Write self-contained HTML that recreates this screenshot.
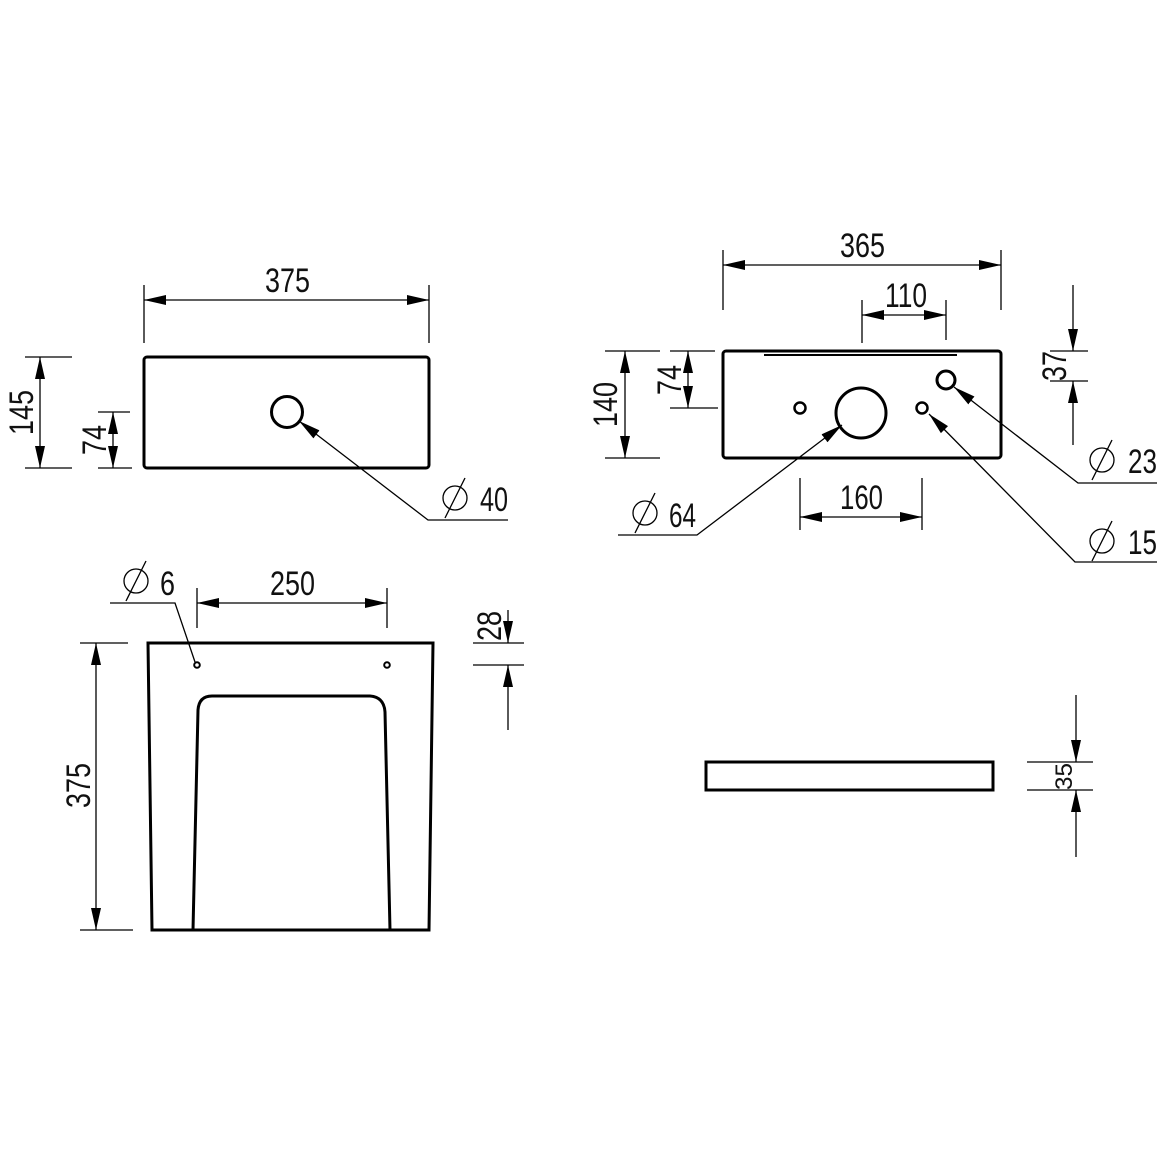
<!DOCTYPE html>
<html><head><meta charset="utf-8"><style>
html,body{margin:0;padding:0;background:#fff}
svg{display:block}
text{font-family:"Liberation Sans",sans-serif;fill:#111}
</style></head><body>
<svg width="1161" height="1161" viewBox="0 0 1161 1161" xmlns="http://www.w3.org/2000/svg">
<defs>
<marker id="a" markerUnits="userSpaceOnUse" markerWidth="24" markerHeight="12" refX="22" refY="5" orient="auto-start-reverse" viewBox="0 0 24 10">
<path d="M0,0 L22,5 L0,10 Z" fill="#000"/></marker>
</defs>
<g stroke="#000" fill="none" stroke-width="1.3">
<!-- Top-left view -->
<line x1="144" y1="285" x2="144" y2="343"/><line x1="429" y1="285" x2="429" y2="343"/>
<line x1="144" y1="300" x2="429" y2="300" marker-start="url(#a)" marker-end="url(#a)"/>
<rect x="144" y="357" width="285" height="111" rx="3" stroke-width="3"/>
<line x1="25" y1="357" x2="72" y2="357"/><line x1="25" y1="468" x2="72" y2="468"/>
<line x1="40" y1="357" x2="40" y2="468" marker-start="url(#a)" marker-end="url(#a)"/>
<line x1="98" y1="412" x2="130" y2="412"/><line x1="98" y1="468" x2="132" y2="468"/>
<line x1="113" y1="412" x2="113" y2="468" marker-start="url(#a)" marker-end="url(#a)"/>
<circle cx="287" cy="412" r="15.5" stroke-width="3"/>
<polyline points="299,421 428,520 508,520" marker-start="url(#a)"/>
<circle cx="455" cy="498" r="12"/><line x1="445" y1="518" x2="465" y2="478"/>

<!-- Top-right view -->
<line x1="723" y1="250" x2="723" y2="310"/><line x1="1001" y1="250" x2="1001" y2="310"/>
<line x1="723" y1="265" x2="1001" y2="265" marker-start="url(#a)" marker-end="url(#a)"/>
<line x1="862" y1="300" x2="862" y2="343"/><line x1="946" y1="300" x2="946" y2="340"/>
<line x1="862" y1="315" x2="946" y2="315" marker-start="url(#a)" marker-end="url(#a)"/>
<rect x="723" y="351" width="278" height="107" rx="3" stroke-width="3"/>
<line x1="764" y1="355" x2="957" y2="355" stroke-width="2"/>
<line x1="605" y1="351" x2="660" y2="351"/><line x1="605" y1="458" x2="660" y2="458"/>
<line x1="625" y1="351" x2="625" y2="458" marker-start="url(#a)" marker-end="url(#a)"/>
<line x1="670" y1="351" x2="715" y2="351"/><line x1="670" y1="408" x2="718" y2="408"/>
<line x1="688" y1="351" x2="688" y2="408" marker-start="url(#a)" marker-end="url(#a)"/>
<circle cx="800" cy="408" r="5.5" stroke-width="2.5"/>
<circle cx="861" cy="413" r="25" stroke-width="3"/>
<circle cx="922" cy="408" r="5.5" stroke-width="2.5"/>
<circle cx="946" cy="380" r="9" stroke-width="3"/>
<line x1="1050" y1="351" x2="1088" y2="351"/><line x1="1050" y1="381" x2="1088" y2="381"/>
<line x1="1073" y1="285" x2="1073" y2="351" marker-end="url(#a)"/>
<line x1="1073" y1="445" x2="1073" y2="381" marker-end="url(#a)"/>
<line x1="800" y1="478" x2="800" y2="530"/><line x1="922" y1="478" x2="922" y2="530"/>
<line x1="800" y1="517" x2="922" y2="517" marker-start="url(#a)" marker-end="url(#a)"/>
<polyline points="842,425 697,535 618,535" marker-start="url(#a)"/>
<circle cx="645" cy="513" r="12"/><line x1="635" y1="533" x2="655" y2="493"/>
<polyline points="929,414 1075,562 1157,562" marker-start="url(#a)"/>
<circle cx="1102" cy="541" r="12"/><line x1="1092" y1="561" x2="1112" y2="521"/>
<polyline points="954,387 1078,483 1157,483" marker-start="url(#a)"/>
<circle cx="1102" cy="460" r="12"/><line x1="1092" y1="480" x2="1112" y2="440"/>

<!-- Bottom-left view -->
<path d="M148,643 L433,643 L429,930 L152,930 Z" stroke-width="3"/>
<path d="M193,930 L198,710 Q199,696 212,696 L370,696 Q384,697 385,712 L390,930" stroke-width="3"/>
<circle cx="197" cy="665" r="2.8" stroke-width="2"/><circle cx="387" cy="665" r="2.8" stroke-width="2"/>
<line x1="80" y1="643" x2="128" y2="643"/><line x1="80" y1="930" x2="133" y2="930"/>
<line x1="96" y1="643" x2="96" y2="930" marker-start="url(#a)" marker-end="url(#a)"/>
<line x1="197" y1="588" x2="197" y2="628"/><line x1="387" y1="588" x2="387" y2="628"/>
<line x1="197" y1="603" x2="387" y2="603" marker-start="url(#a)" marker-end="url(#a)"/>
<polyline points="195,662 175,603 110,603"/>
<circle cx="136" cy="581" r="12"/><line x1="126" y1="601" x2="146" y2="561"/>
<line x1="473" y1="643" x2="524" y2="643"/><line x1="473" y1="665" x2="524" y2="665"/>
<line x1="508" y1="610" x2="508" y2="643" marker-end="url(#a)"/>
<line x1="508" y1="730" x2="508" y2="665" marker-end="url(#a)"/>

<!-- Bottom-right view -->
<rect x="706" y="762" width="287" height="28" stroke-width="3"/>
<line x1="1027" y1="762" x2="1093" y2="762"/><line x1="1027" y1="790" x2="1093" y2="790"/>
<line x1="1076" y1="695" x2="1076" y2="762" marker-end="url(#a)"/>
<line x1="1076" y1="857" x2="1076" y2="790" marker-end="url(#a)"/>
</g>
<g font-size="34">
<text x="265" y="292" textLength="45" lengthAdjust="spacingAndGlyphs">375</text>
<text x="840" y="257" textLength="45" lengthAdjust="spacingAndGlyphs">365</text>
<text x="885" y="307" textLength="42" lengthAdjust="spacingAndGlyphs">110</text>
<text x="840" y="509" textLength="43" lengthAdjust="spacingAndGlyphs">160</text>
<text x="270" y="595" textLength="45" lengthAdjust="spacingAndGlyphs">250</text>
<text x="480" y="511" textLength="28" lengthAdjust="spacingAndGlyphs">40</text>
<text x="669" y="527" textLength="27" lengthAdjust="spacingAndGlyphs">64</text>
<text x="1128" y="473" textLength="29" lengthAdjust="spacingAndGlyphs">23</text>
<text x="1128" y="554" textLength="29" lengthAdjust="spacingAndGlyphs">15</text>
<text x="160" y="595" textLength="15" lengthAdjust="spacingAndGlyphs">6</text>
<text transform="translate(33,435) rotate(-90)" textLength="45" lengthAdjust="spacingAndGlyphs">145</text>
<text transform="translate(106,455) rotate(-90)" textLength="30" lengthAdjust="spacingAndGlyphs">74</text>
<text transform="translate(617,427) rotate(-90)" textLength="45" lengthAdjust="spacingAndGlyphs">140</text>
<text transform="translate(681,395) rotate(-90)" textLength="30" lengthAdjust="spacingAndGlyphs">74</text>
<text transform="translate(1066,381) rotate(-90)" textLength="30" lengthAdjust="spacingAndGlyphs">37</text>
<text transform="translate(90,808) rotate(-90)" textLength="45" lengthAdjust="spacingAndGlyphs">375</text>
<text transform="translate(501,641) rotate(-90)" textLength="30" lengthAdjust="spacingAndGlyphs">28</text>
<text transform="translate(1072,790) rotate(-90)" font-size="24" textLength="27" lengthAdjust="spacingAndGlyphs">35</text>
</g>
</svg>
</body></html>
